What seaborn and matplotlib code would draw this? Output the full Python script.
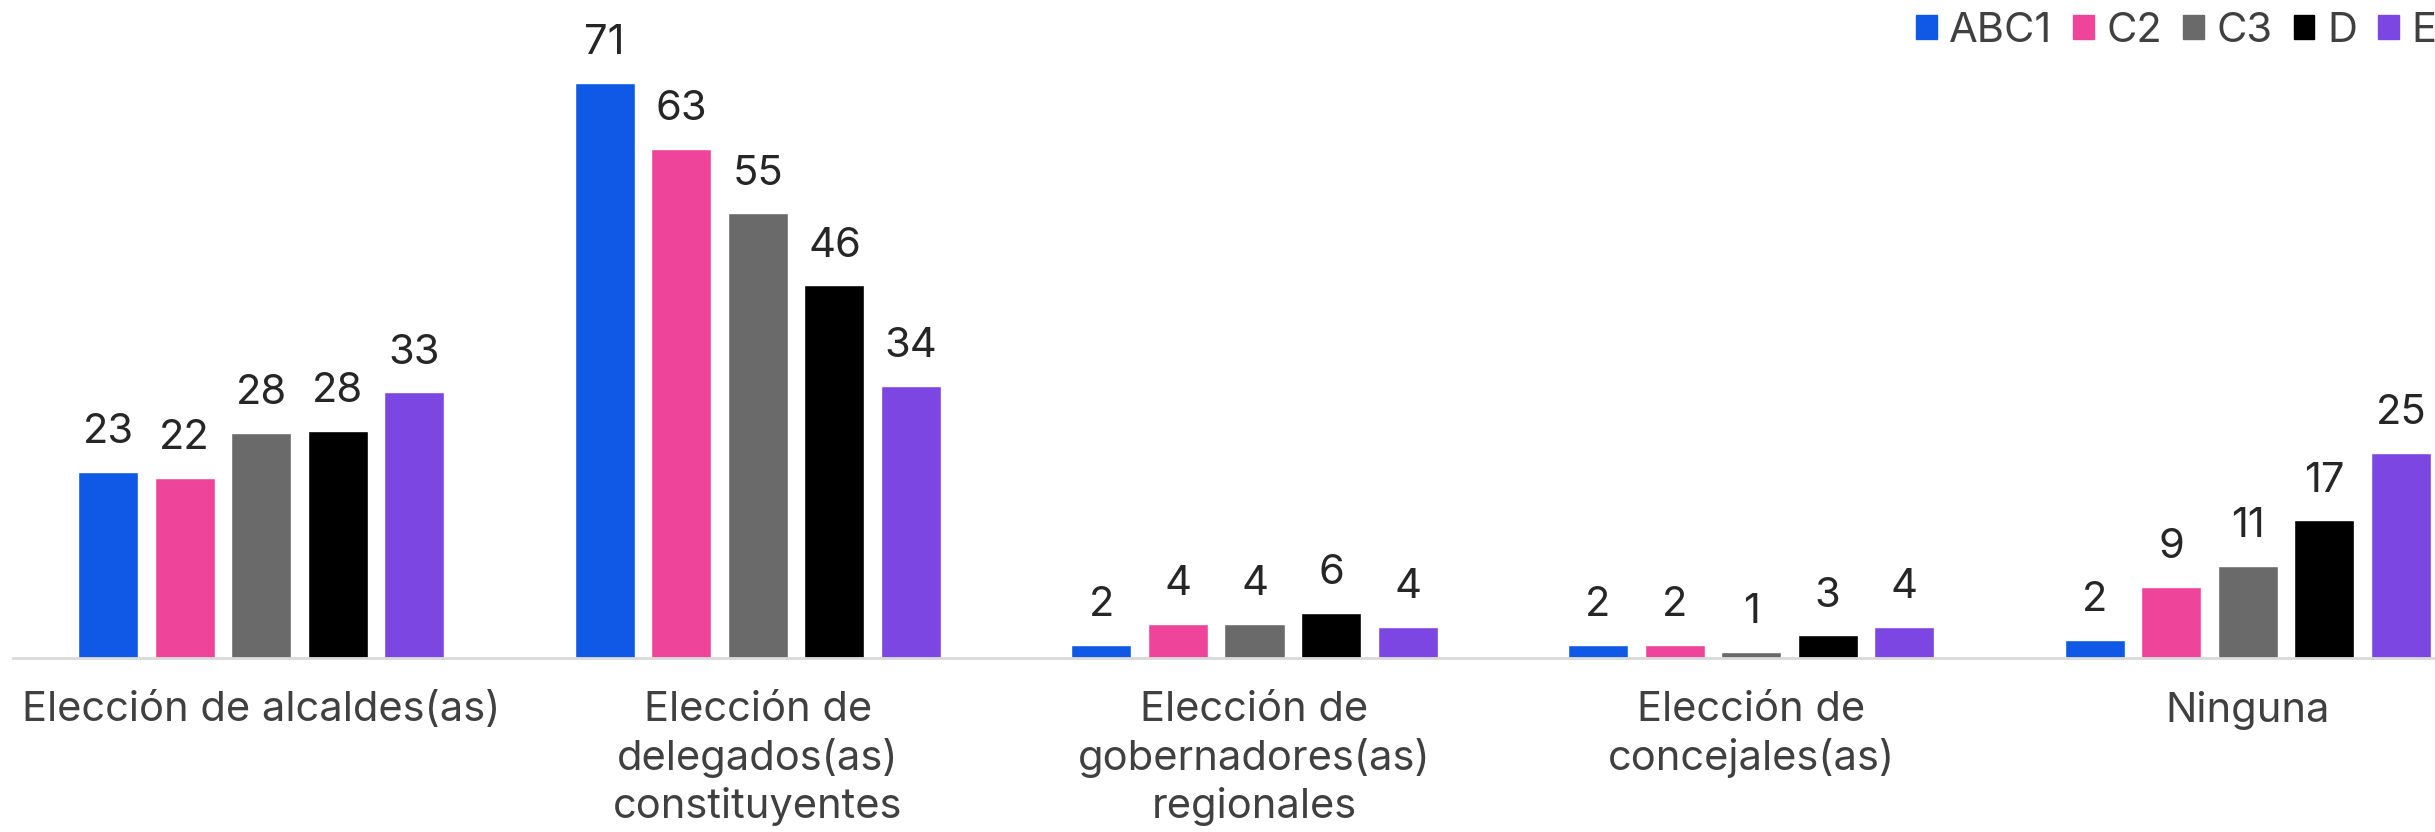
import pandas as pd
import matplotlib.pyplot as plt
import seaborn as sns

# Chart data (bar heights, labels are rounded)
categories = ["Elección de alcaldes(as)",
              "Elección de\ndelegados(as)\nconstituyentes",
              "Elección de\ngobernadores(as)\nregionales",
              "Elección de\nconcejales(as)",
              "Ninguna"]
groups = ["ABC1", "C2", "C3", "D", "E"]
abc1 = [23, 71, 1.6, 1.6, 2.2]
c2 = [22.2, 62.8, 4.2, 1.6, 8.8]
c3 = [27.8, 54.9, 4.2, 0.8, 11.4]
d = [28, 46, 5.6, 2.8, 17]
e = [32.8, 33.6, 3.8, 3.8, 25.3]
colors = ["#1059e6", "#ee4499", "#6a6a6a", "#000000", "#7b46e2"]

series = dict(zip(groups, [abc1, c2, c3, d, e]))
df = pd.DataFrame([(cat, g, v) for g in groups for cat, v in zip(categories, series[g])],
                  columns=["categoria", "grupo", "valor"])

sns.set_style("white")
plt.rcParams['font.family'] = ['Inter', 'DejaVu Sans']
text_color = "#404040"

fig = plt.figure(figsize=(24.35, 8.32), dpi=100)
ax = fig.add_axes([13 / 2435, 0.209, 2483 / 2435, 0.779])

sns.barplot(data=df, x="categoria", y="valor", hue="grupo", palette=colors,
            saturation=1, width=0.771, gap=0.216, ax=ax, legend=False)

for cont in ax.containers:
    ax.bar_label(cont, labels=[f"{b.get_height():.0f}" for b in cont],
                 padding=15, fontsize=30, color="#262626")

ax.set_ylim(0, 80)
ax.set_xlim(-0.5, 4.5)
ax.set_xlabel("")
ax.set_ylabel("")
ax.set_yticks([])
ax.tick_params(axis="x", length=0, pad=24, labelsize=30, labelcolor=text_color)
for lbl in ax.get_xticklabels():
    lbl.set_linespacing(1.28)
for s in ["top", "right", "left"]:
    ax.spines[s].set_visible(False)
ax.spines["bottom"].set_color("#d9d9d9")
ax.spines["bottom"].set_linewidth(2)

handles = [plt.Rectangle((0, 0), 1, 1, color=c) for c in colors]
fig.legend(handles, groups, loc="center left", bbox_to_anchor=(1916 / 2435, 1 - 31 / 832),
           ncol=5, frameon=False, fontsize=30, labelcolor=text_color,
           handlelength=0.5, handleheight=0.5, handletextpad=0.3,
           columnspacing=0.5, borderpad=0, borderaxespad=0)

fig.savefig("out.png", dpi=100)
